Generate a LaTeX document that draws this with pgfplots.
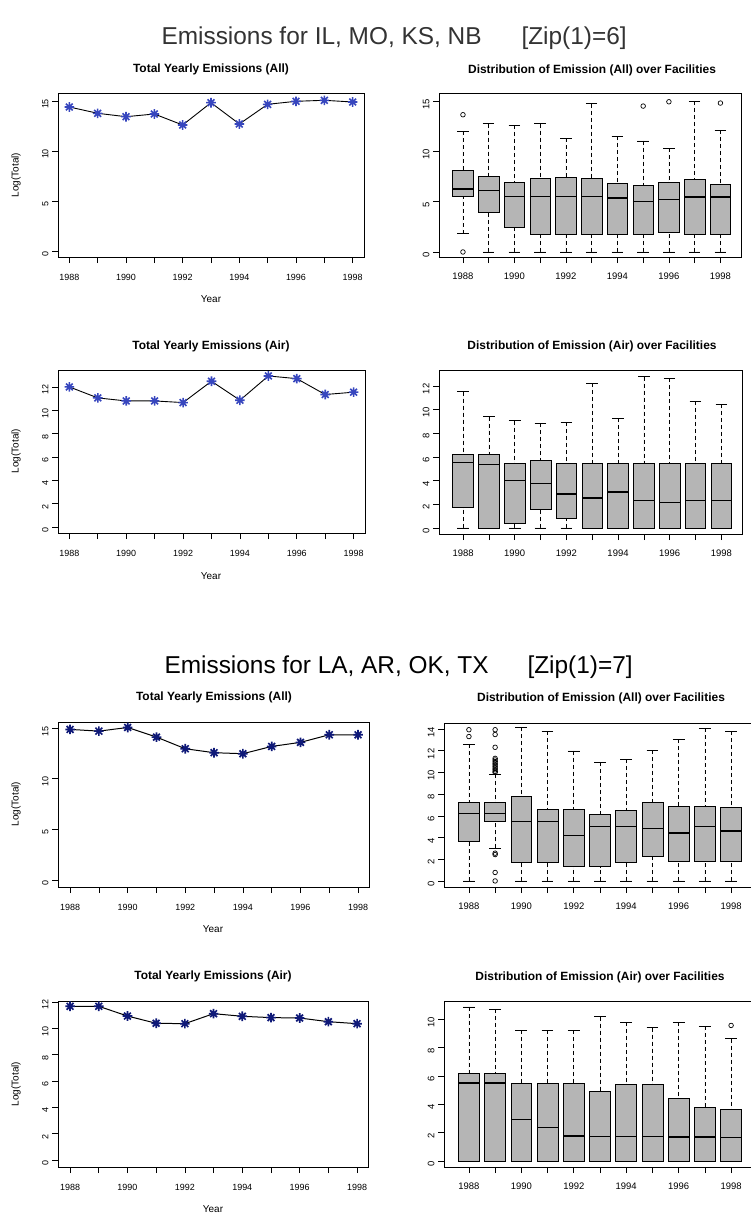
\documentclass[border=0pt]{standalone}
\usepackage{fontspec}
\setmainfont{Liberation Sans}
\usepackage{pgfplots}
\pgfplotsset{compat=1.18}
\usepgfplotslibrary{statistics}
\definecolor{starA}{RGB}{55,70,190}
\definecolor{starB}{RGB}{15,25,120}
\pgfdeclareplotmark{rstar}{%
  \pgfpathmoveto{\pgfqpoint{-\pgfplotmarksize}{0pt}}\pgfpathlineto{\pgfqpoint{\pgfplotmarksize}{0pt}}%
  \pgfpathmoveto{\pgfqpoint{0pt}{-\pgfplotmarksize}}\pgfpathlineto{\pgfqpoint{0pt}{\pgfplotmarksize}}%
  \pgfpathmoveto{\pgfqpoint{-.707\pgfplotmarksize}{-.707\pgfplotmarksize}}\pgfpathlineto{\pgfqpoint{.707\pgfplotmarksize}{.707\pgfplotmarksize}}%
  \pgfpathmoveto{\pgfqpoint{-.707\pgfplotmarksize}{.707\pgfplotmarksize}}\pgfpathlineto{\pgfqpoint{.707\pgfplotmarksize}{-.707\pgfplotmarksize}}%
  \pgfusepathqstroke}
\pgfplotsset{
  boxplot/draw/lower whisker/.code={%
    \draw[/pgfplots/boxplot/every whisker/.try,dash pattern=on 4bp off 3bp]
      (boxplot box cs:\pgfplotsboxplotvalue{lower whisker},0.5) --
      (boxplot box cs:\pgfplotsboxplotvalue{lower quartile},0.5);
    \draw[/pgfplots/boxplot/every whisker/.try,solid]
      (boxplot whisker cs:\pgfplotsboxplotvalue{lower whisker},0) --
      (boxplot whisker cs:\pgfplotsboxplotvalue{lower whisker},1);
  },
  boxplot/draw/upper whisker/.code={%
    \draw[/pgfplots/boxplot/every whisker/.try,dash pattern=on 4bp off 3bp]
      (boxplot box cs:\pgfplotsboxplotvalue{upper whisker},0.5) --
      (boxplot box cs:\pgfplotsboxplotvalue{upper quartile},0.5);
    \draw[/pgfplots/boxplot/every whisker/.try,solid]
      (boxplot whisker cs:\pgfplotsboxplotvalue{upper whisker},0) --
      (boxplot whisker cs:\pgfplotsboxplotvalue{upper whisker},1);
  },
  rbase/.style={scale only axis, anchor=south west, clip=false,
    axis line style={line width=0.8pt},
    tick align=outside, tick pos=left, major tick length=6bp,
    tick style={black, line width=0.6pt},
    /pgf/number format/assume math mode=true,
    yticklabel style={rotate=90, anchor=south, xshift=-3bp},
  },
  lineax/.style={rbase,
    ticklabel style={font=\fontsize{9}{10}\selectfont},
    xticklabel style={yshift=-8bp},
    xtick={1988,1989,...,1998},
    xticklabels={1988,,1990,,1992,,1994,,1996,,1998}},
  boxax/.style={rbase,
    ticklabel style={font=\fontsize{9.5}{11}\selectfont},
    xticklabel style={yshift=-6.5bp},
    xtick={1,2,...,11},
    xticklabels={1988,,1990,,1992,,1994,,1996,,1998}},
  boxst/.style={draw=black, line width=0.7pt, fill=gray!58, solid,
    boxplot/draw direction=y,
    boxplot/box extend=0.8, boxplot/whisker extend=0.45,
    boxplot/every median/.style={line width=1.3pt}},
  outl/.style={only marks, mark=o, mark size=2.3bp, black, mark options={line width=0.7pt}},
  lineA/.style={black, line width=0.9pt, mark=rstar, mark options={starA, line width=1.6pt, mark size=4.8bp}},
  lineB/.style={black, line width=1pt, mark=rstar, mark options={starB, line width=1.7pt, mark size=4.8bp}},
}
\newcommand{\bx}[6]{\addplot[boxst, boxplot prepared={draw position=#1, lower whisker=#2, lower quartile=#3, median=#4, upper quartile=#5, upper whisker=#6}] coordinates {};}
\begin{document}
\begin{tikzpicture}
\path[use as bounding box, clip] (0,0) rectangle (751bp,-1222bp);
\fill[white] (0,0) rectangle (751bp,-1222bp);

% group titles
\node[anchor=base west, font=\fontsize{24.5}{28}\selectfont, text=black!80] at (158bp,-44bp) {Emissions for IL, MO, KS, NB};
\node[anchor=base west, font=\fontsize{24.5}{28}\selectfont, text=black!80] at (518bp,-44bp) {{[}Zip(1)=6]};
\node[anchor=base west, font=\fontsize{24.5}{28}\selectfont] at (161bp,-673bp) {Emissions for LA, AR, OK, TX};
\node[anchor=base west, font=\fontsize{24.5}{28}\selectfont] at (524bp,-673bp) {{[}Zip(1)=7]};

% panel titles
\tikzset{pt/.style={font=\fontsize{12}{14}\selectfont\bfseries}, al/.style={font=\fontsize{10}{12}\selectfont}}
\node[pt] at (211bp,-69bp) {Total Yearly Emissions (All)};
\node[pt] at (592bp,-70bp) {Distribution of Emission (All) over Facilities};
\node[pt] at (211bp,-346bp) {Total Yearly Emissions (Air)};
\node[pt] at (592bp,-346bp) {Distribution of Emission (Air) over Facilities};
\node[pt] at (214bp,-697bp) {Total Yearly Emissions (All)};
\node[pt] at (601bp,-698bp) {Distribution of Emission (All) over Facilities};
\node[pt] at (213bp,-976bp) {Total Yearly Emissions (Air)};
\node[pt] at (600bp,-977bp) {Distribution of Emission (Air) over Facilities};

\node[al] at (211bp,-299bp) {Year};
\node[al] at (211bp,-576bp) {Year};
\node[al] at (213bp,-929bp) {Year};
\node[al] at (213bp,-1209bp) {Year};
\node[al, rotate=90] at (16bp,-175bp) {Log(Total)};
\node[al, rotate=90] at (16bp,-451bp) {Log(Total)};
\node[al, rotate=90] at (16bp,-804bp) {Log(Total)};
\node[al, rotate=90] at (16bp,-1084bp) {Log(Total)};

% P1
\begin{axis}[lineax, at={(58bp,-257bp)}, width=306bp, height=164bp,
  xmin=1987.6, xmax=1998.4, ymin=-0.6, ymax=15.8, ytick={0,5,10,15}]
\addplot[lineA] coordinates {(1988,14.4)(1989,13.77)(1990,13.43)(1991,13.7)(1992,12.6)(1993,14.83)(1994,12.7)(1995,14.67)(1996,14.97)(1997,15.07)(1998,14.9)};
\end{axis}

% P2
\begin{axis}[boxax, at={(439bp,-257bp)}, width=302bp, height=164bp,
  xmin=0.07, xmax=11.8, ymin=-0.5, ymax=15.8, ytick={0,5,10,15}]
\bx{1}{1.82}{5.53}{6.26}{8.15}{11.99}
\bx{2}{0}{3.9}{6.09}{7.52}{12.75}
\bx{3}{0}{2.42}{5.53}{6.95}{12.58}
\bx{4}{0}{1.79}{5.53}{7.28}{12.75}
\bx{5}{0}{1.79}{5.53}{7.38}{11.32}
\bx{6}{0}{1.79}{5.53}{7.28}{14.73}
\bx{7}{0}{1.79}{5.36}{6.79}{11.49}
\bx{8}{0}{1.79}{5.03}{6.59}{11.03}
\bx{9}{0}{1.92}{5.2}{6.95}{10.3}
\bx{10}{0}{1.79}{5.46}{7.19}{14.97}
\bx{11}{0}{1.79}{5.46}{6.69}{12.09}
\addplot[outl] coordinates {(1,13.64)(1,0)(8,14.5)(9,14.93)(11,14.8)};
\end{axis}

% P3
\begin{axis}[lineax, at={(58bp,-533bp)}, width=307bp, height=163bp,
  xmin=1987.6, xmax=1998.4, ymin=-0.51, ymax=13.45, ytick={0,2,...,12}]
\addplot[lineA] coordinates {(1988,12.0)(1989,11.06)(1990,10.8)(1991,10.8)(1992,10.66)(1993,12.49)(1994,10.86)(1995,12.94)(1996,12.71)(1997,11.35)(1998,11.55)};
\end{axis}

% P4
\begin{axis}[boxax, at={(439bp,-534bp)}, width=303bp, height=164bp,
  xmin=0.07, xmax=11.8, ymin=-0.51, ymax=13.35, ytick={0,2,...,12}]
\bx{1}{0}{1.78}{5.53}{6.21}{11.52}
\bx{2}{0}{0}{5.34}{6.21}{9.4}
\bx{3}{0}{0.37}{4.0}{5.5}{9.06}
\bx{4}{0}{1.61}{3.75}{5.73}{8.84}
\bx{5}{0}{0.79}{2.88}{5.5}{8.92}
\bx{6}{0}{0}{2.54}{5.5}{12.22}
\bx{7}{0}{0}{3.05}{5.45}{9.29}
\bx{8}{0}{0}{2.34}{5.45}{12.79}
\bx{9}{0}{0}{2.15}{5.45}{12.65}
\bx{10}{0}{0}{2.34}{5.45}{10.7}
\bx{11}{0}{0}{2.34}{5.45}{10.45}
\end{axis}

% P5
\begin{axis}[lineax, at={(58bp,-887bp)}, width=311bp, height=165bp,
  xmin=1987.58, xmax=1998.38, ymin=-0.69, ymax=15.6, ytick={0,5,10,15}]
\addplot[lineB] coordinates {(1988,14.87)(1989,14.7)(1990,15.06)(1991,14.11)(1992,12.96)(1993,12.57)(1994,12.47)(1995,13.19)(1996,13.59)(1997,14.34)(1998,14.34)};
\end{axis}

% P6
\begin{axis}[boxax, at={(444bp,-887bp)}, width=312bp, height=164bp,
  xmin=0.05, xmax=11.95, ymin=-0.56, ymax=14.56, ytick={0,2,...,14}]
\bx{1}{0}{3.63}{6.21}{7.26}{12.6}
\bx{2}{3.01}{5.5}{6.21}{7.26}{9.84}
\bx{3}{0}{1.74}{5.5}{7.76}{14.19}
\bx{4}{0}{1.74}{5.5}{6.58}{13.78}
\bx{5}{0}{1.37}{4.22}{6.58}{11.98}
\bx{6}{0}{1.3}{5.03}{6.18}{10.93}
\bx{7}{0}{1.74}{5.0}{6.55}{11.24}
\bx{8}{0}{2.3}{4.84}{7.2}{12.05}
\bx{9}{0}{1.83}{4.41}{6.89}{13.07}
\bx{10}{0}{1.83}{5.03}{6.89}{14.06}
\bx{11}{0}{1.83}{4.6}{6.83}{13.78}
\addplot[outl] coordinates {(1,13.94)(1,13.31)
 (2,13.94)(2,13.5)(2,12.32)(2,11.3)(2,11.15)(2,11.0)(2,10.85)(2,10.7)(2,10.55)(2,10.4)(2,10.25)(2,10.1)(2,10.0)
 (2,2.56)(2,2.43)(2,0.78)(2,0)};
\end{axis}

% P7
\begin{axis}[lineax, at={(58bp,-1167bp)}, width=310bp, height=166bp,
  xmin=1987.58, xmax=1998.38, ymin=-0.53, ymax=12.07, ytick={0,2,...,12}]
\addplot[lineB] coordinates {(1988,11.67)(1989,11.67)(1990,10.93)(1991,10.38)(1992,10.35)(1993,11.11)(1994,10.91)(1995,10.81)(1996,10.78)(1997,10.5)(1998,10.35)};
\end{axis}

% P8
\begin{axis}[boxax, at={(444bp,-1167bp)}, width=312bp, height=166bp,
  xmin=0.05, xmax=11.95, ymin=-0.42, ymax=11.27, ytick={0,2,...,10}]
\bx{1}{0}{0}{5.5}{6.18}{10.85}
\bx{2}{0}{0}{5.5}{6.18}{10.68}
\bx{3}{0}{0}{2.95}{5.5}{9.2}
\bx{4}{0}{0}{2.36}{5.47}{9.2}
\bx{5}{0}{0}{1.77}{5.47}{9.2}
\bx{6}{0}{0}{1.75}{4.93}{10.17}
\bx{7}{0}{0}{1.75}{5.42}{9.76}
\bx{8}{0}{0}{1.75}{5.42}{9.39}
\bx{9}{0}{0}{1.7}{4.43}{9.76}
\bx{10}{0}{0}{1.7}{3.77}{9.5}
\bx{11}{0}{0}{1.65}{3.66}{8.61}
\addplot[outl] coordinates {(11,9.55)};
\end{axis}
\end{tikzpicture}
\end{document}
